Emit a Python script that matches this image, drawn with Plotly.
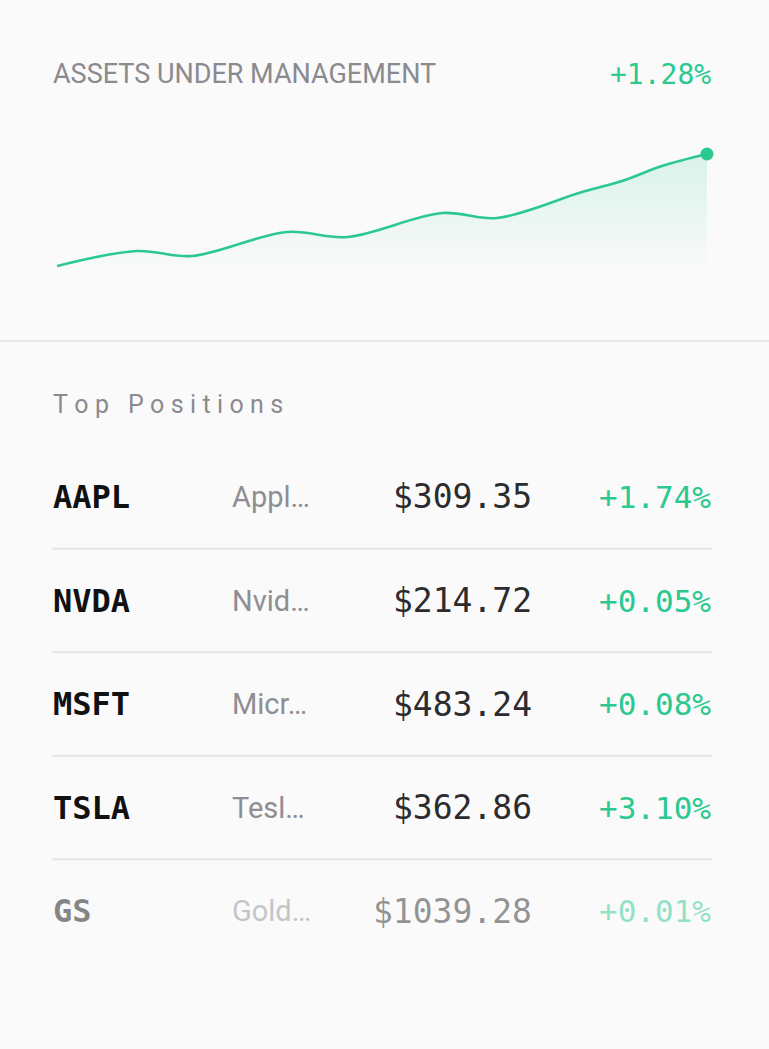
import plotly.graph_objects as go

# AUM sparkline (day, index value)
aum_days = [0, 16, 27, 46, 58, 77, 88, 105, 113, 121, 130]
aum_values = [34, 49, 44, 68, 63, 87, 82, 108, 119, 134, 146]
aum_change = "+1.28%"

# top positions table
tickers = ["AAPL", "NVDA", "MSFT", "TSLA", "GS"]
names = ["Appl…", "Nvid…", "Micr…", "Tesl…", "Gold…"]
prices = [309.35, 214.72, 483.24, 362.86, 1039.28]
changes = [1.74, 0.05, 0.08, 3.10, 0.01]
row_alpha = [1, 1, 1, 1, 0.5]

GREEN = (43, 201, 144)
W, H = 769, 1049


def rgba(rgb, a):
    return f"rgba({rgb[0]},{rgb[1]},{rgb[2]},{a})"


def spaced(s):
    # fake letter-spacing with four-per-em spaces
    return "\u2005".join(s)


fig = go.Figure()

# area under the line, fading out towards the bottom
fig.add_trace(go.Scatter(
    x=aum_days,
    y=aum_values,
    mode='lines',
    line=dict(color=rgba(GREEN, 1), width=2.6, shape='spline', smoothing=1.0),
    fill='tozeroy',
    fillgradient=dict(
        type='vertical',
        start=28,
        stop=max(aum_values),
        colorscale=[[0, rgba(GREEN, 0)], [1, rgba(GREEN, 0.16)]],
    ),
    hoverinfo='skip',
))
# dot on the latest value
fig.add_trace(go.Scatter(
    x=aum_days[-1:],
    y=aum_values[-1:],
    mode='markers',
    marker=dict(color=rgba(GREEN, 1), size=13),
    cliponaxis=False,
    hoverinfo='skip',
))

annotations = []
# header
annotations.append(dict(
    x=52 / W, y=1 - 74 / H, xref='paper', yref='paper',
    text="ASSETS UNDER MANAGEMENT", showarrow=False,
    xanchor='left', yanchor='middle', borderpad=0,
    font=dict(family="Roboto", size=27, color="#8a8a8f"),
))
annotations.append(dict(
    x=712 / W, y=1 - 74 / H, xref='paper', yref='paper',
    text=aum_change, showarrow=False,
    xanchor='right', yanchor='middle', borderpad=0,
    font=dict(family="DejaVu Sans Mono", size=28, color=rgba(GREEN, 1)),
))
annotations.append(dict(
    x=52 / W, y=1 - 404 / H, xref='paper', yref='paper',
    text=spaced("Top Positions"), showarrow=False,
    xanchor='left', yanchor='middle', borderpad=0,
    font=dict(family="Roboto", size=25, color="#8a8a8f"),
))

# table rows
for i, (tk, nm, pr, ch, a) in enumerate(zip(tickers, names, prices, changes, row_alpha)):
    annotations.append(dict(
        x=52, y=i, xref='x2', yref='y2', text=tk, showarrow=False,
        xanchor='left', yanchor='middle', borderpad=0,
        font=dict(family="DejaVu Sans Mono", size=32, weight='bold',
                  color=rgba((17, 17, 17), a)),
    ))
    annotations.append(dict(
        x=231, y=i, xref='x2', yref='y2', text=nm, showarrow=False,
        xanchor='left', yanchor='middle', borderpad=0,
        font=dict(family="Roboto", size=29, color=rgba((142, 142, 147), a)),
    ))
    annotations.append(dict(
        x=533, y=i, xref='x2', yref='y2', text=f"${pr:.2f}", showarrow=False,
        xanchor='right', yanchor='middle', borderpad=0,
        font=dict(family="DejaVu Sans Mono", size=33, color=rgba((44, 44, 46), a)),
    ))
    annotations.append(dict(
        x=712, y=i, xref='x2', yref='y2', text=f"{ch:+.2f}%", showarrow=False,
        xanchor='right', yanchor='middle', borderpad=0,
        font=dict(family="DejaVu Sans Mono", size=31, color=rgba(GREEN, a)),
    ))

shapes = []
# divider under the chart
shapes.append(dict(type='line', xref='paper', yref='paper', x0=0, x1=1,
                   y0=1 - 341 / H, y1=1 - 341 / H,
                   line=dict(color="#e8e8e8", width=2)))
# row dividers
for i in range(len(tickers) - 1):
    shapes.append(dict(type='line', xref='x2', yref='y2', x0=52, x1=712,
                       y0=i + 0.5, y1=i + 0.5,
                       line=dict(color="#e6e6e6", width=2)))

hidden = dict(visible=False, showgrid=False, zeroline=False, fixedrange=True)

fig.update_layout(
    width=W,
    height=H,
    margin=dict(l=0, r=0, t=0, b=0),
    paper_bgcolor="#fafafa",
    plot_bgcolor="rgba(0,0,0,0)",
    showlegend=False,
    hovermode=False,
    xaxis=dict(domain=[57 / W, 707 / W], range=[aum_days[0], aum_days[-1]], **hidden),
    yaxis=dict(domain=[1 - 280 / H, 1 - 140 / H], range=[20, 160], **hidden),
    xaxis2=dict(domain=[0, 1], range=[0, W], anchor='y2', **hidden),
    yaxis2=dict(domain=[1 - 962.75 / H, 1 - 445.25 / H], range=[4.5, -0.5],
                anchor='x2', **hidden),
    annotations=annotations,
    shapes=shapes,
)

# drop the browser's default body margin so the card fills the window
fig.write_html(
    "out.html",
    config={'displayModeBar': False},
    post_script="document.body.style.margin='0';document.body.style.background='#fafafa';",
)
